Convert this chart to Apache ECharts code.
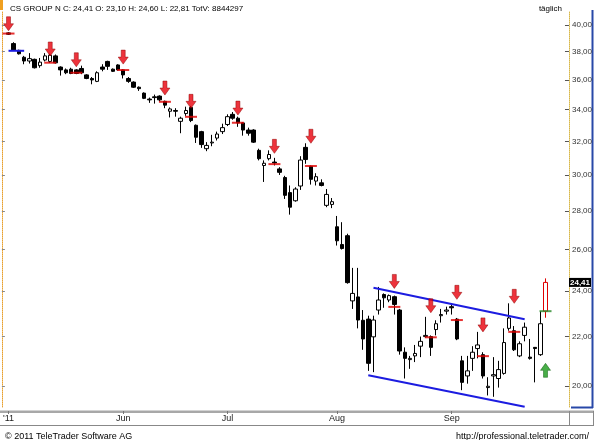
<!DOCTYPE html>
<html>
<head>
<meta charset="utf-8">
<script src="https://cdn.jsdelivr.net/npm/echarts@6/dist/echarts.min.js"></script>
<style>
html, body { margin: 0; padding: 0; background: #fff; }
#chart { width: 595px; height: 440px; }
</style>
</head>
<body>
<div id="chart"></div>
<script>
// daily candles [open, close, low, high], 2 May - 27 Sep 2011
var candles = [
    [39.40, 39.30, 39.25, 39.45],
    [38.60, 38.13, 38.10, 38.70],
    [38.10, 37.85, 37.80, 38.15],
    [37.60, 37.33, 37.10, 37.70],
    [37.33, 37.50, 37.15, 37.90],
    [37.45, 36.85, 36.80, 37.50],
    [37.00, 37.25, 36.85, 37.55],
    [37.40, 37.70, 37.30, 37.90],
    [37.30, 37.75, 37.20, 37.85],
    [37.70, 37.20, 37.15, 37.80],
    [36.90, 36.70, 36.30, 36.95],
    [36.70, 36.50, 36.40, 36.80],
    [36.75, 36.45, 36.40, 36.85],
    [36.70, 36.45, 36.40, 36.75],
    [36.80, 36.50, 36.40, 37.00],
    [36.35, 36.10, 36.05, 36.40],
    [36.10, 36.00, 35.70, 36.20],
    [35.90, 36.50, 35.85, 36.60],
    [36.90, 36.75, 36.60, 37.10],
    [37.30, 36.95, 36.70, 37.35],
    [36.75, 36.60, 36.55, 36.80],
    [37.05, 36.70, 36.65, 37.10],
    [36.70, 36.35, 36.10, 36.75],
    [36.10, 35.90, 35.80, 36.20],
    [35.85, 35.50, 35.45, 35.90],
    [35.50, 35.40, 35.25, 35.55],
    [35.10, 34.75, 34.70, 35.15],
    [34.70, 34.65, 34.45, 34.80],
    [34.85, 34.80, 34.40, 35.00],
    [34.90, 34.65, 34.55, 34.95],
    [34.55, 34.30, 34.10, 34.60],
    [33.90, 34.05, 33.50, 34.15],
    [33.95, 33.90, 33.55, 34.10],
    [33.25, 33.45, 32.50, 33.55],
    [33.75, 33.95, 33.60, 34.20],
    [34.15, 33.30, 33.20, 34.25],
    [33.00, 32.25, 31.90, 33.05],
    [32.60, 31.80, 31.60, 32.65],
    [31.55, 31.75, 31.40, 31.95],
    [31.90, 31.95, 31.70, 32.40],
    [32.20, 32.45, 32.05, 32.60],
    [32.60, 32.85, 32.45, 33.10],
    [33.05, 33.55, 32.95, 33.70],
    [33.70, 33.45, 33.35, 33.85],
    [33.45, 33.15, 32.90, 33.55],
    [33.15, 32.70, 32.35, 33.20],
    [32.70, 32.50, 32.35, 32.85],
    [32.70, 31.95, 31.90, 32.75],
    [31.45, 30.95, 30.85, 31.55],
    [30.55, 30.68, 29.60, 30.85],
    [30.95, 31.20, 30.85, 31.45],
    [30.75, 30.70, 30.55, 31.00],
    [30.35, 30.15, 30.00, 30.45],
    [29.85, 28.85, 28.65, 29.95],
    [29.00, 28.20, 27.80, 29.40],
    [28.55, 29.20, 28.50, 29.30],
    [29.37, 30.87, 29.15, 31.10],
    [31.63, 30.90, 30.65, 31.88],
    [30.50, 29.75, 29.45, 30.55],
    [29.65, 29.90, 29.40, 30.10],
    [29.55, 29.40, 29.35, 29.75],
    [28.30, 28.90, 28.20, 29.20],
    [28.35, 28.50, 28.15, 28.70],
    [27.16, 26.44, 26.20, 27.73],
    [26.25, 26.05, 26.00, 27.40],
    [26.70, 24.40, 24.35, 26.80],
    [23.56, 23.90, 23.20, 25.10],
    [23.74, 22.71, 22.35, 25.10],
    [22.70, 21.90, 21.45, 23.15],
    [22.75, 20.90, 20.60, 22.90],
    [21.99, 22.71, 20.55, 22.90],
    [23.15, 23.60, 22.95, 24.20],
    [23.85, 23.70, 23.25, 23.90],
    [23.60, 23.80, 23.50, 23.85],
    [23.75, 23.40, 22.95, 23.80],
    [23.15, 21.40, 21.25, 23.20],
    [21.35, 21.10, 20.30, 21.55],
    [21.05, 21.10, 20.68, 21.20],
    [21.20, 21.30, 20.95, 21.65],
    [21.60, 21.80, 21.15, 22.00],
    [22.00, 22.05, 21.95, 22.85],
    [22.00, 21.55, 21.20, 22.05],
    [22.30, 22.55, 22.05, 22.70],
    [22.90, 22.95, 22.60, 23.20],
    [23.10, 23.15, 22.95, 23.30],
    [23.30, 23.25, 22.95, 23.45],
    [22.75, 21.90, 21.85, 22.80],
    [21.00, 20.15, 19.85, 21.20],
    [20.40, 20.60, 20.10, 21.20],
    [21.10, 21.35, 20.60, 21.60],
    [21.50, 21.65, 21.10, 22.20],
    [21.25, 20.40, 20.30, 21.35],
    [19.95, 20.00, 19.65, 20.35],
    [20.40, 20.45, 19.60, 21.15],
    [20.30, 20.65, 19.95, 21.00],
    [20.50, 21.75, 20.45, 22.35],
    [22.35, 22.80, 22.25, 23.45],
    [22.25, 21.45, 21.40, 22.45],
    [21.20, 21.70, 21.15, 21.80],
    [22.05, 22.40, 21.80, 22.60],
    [21.15, 21.10, 21.05, 21.90],
    [21.55, 21.50, 20.15, 21.55],
    [21.25, 22.55, 21.20, 23.10],
    [23.10, 24.41, 22.81, 24.60]
];
var totalVolume = 8844297;
var slotCount = 108;

var monthIdx = [0, 22, 42, 63, 85];
var monthLabels = ["'11", 'Jun', 'Jul', 'Aug', 'Sep'];
var priceTicks = [20, 22, 24, 26, 28, 30, 32, 34, 36, 38, 40];

// signal markers [day index, price]
var sellArrows = [[0, 39.56], [8, 37.69], [13, 36.92], [22, 37.11], [30, 34.97], [35, 34.09], [44, 33.65],
    [51, 31.27], [58, 31.88], [74, 24.13], [81, 23.03], [86, 23.63], [91, 22.20], [97, 23.45]];
var sellLevels = [[0, 39.35], [8, 37.21], [13, 36.50], [22, 36.69], [30, 34.52], [35, 33.54], [44, 33.16],
    [51, 30.63], [58, 30.52], [74, 23.29], [81, 21.97], [86, 22.71], [91, 21.19], [97, 22.20]];
var buyArrows = [[103, 20.90]];
var buyLevels = [[103, 23.10]];

// trend lines
var upperChannel = [[70, 24.16], [99, 22.74]];
var lowerChannel = [[69, 20.43], [99, 19.23]];
var supportLine = [[0, 38.07], [3, 38.07]];

function fmt(v) {
    return v.toFixed(2).replace('.', ',');
}

var chart = echarts.init(document.getElementById('chart'));

var last = candles[candles.length - 1];
var header = 'CS GROUP N C: ' + fmt(last[1]) + ' O: ' + fmt(last[0]) + ' H: ' + fmt(last[3]) +
    ' L: ' + fmt(last[2]) + ' TotV: ' + totalVolume;

var categories = [];
for (var i = 0; i < slotCount; i++) categories.push(String(i));

var candleData = candles.map(function (d, i) {
    if (i == candles.length - 1) {
        return { value: d, itemStyle: { color: '#fff', borderColor: '#e00000' } };
    }
    return d;
});

var font = 'Liberation Sans, Arial, sans-serif';
var arrowDown = 'path://M3,0 L7,0 L7,7 L10,7 L5,14 L0,7 L3,7 Z';
var arrowUp = 'path://M5,0 L10,7 L7,7 L7,14 L3,14 L3,7 L0,7 Z';
var yMin = 19.22, yMax = 41.09;

function isMonth(index) {
    return monthIdx.indexOf(index) >= 0;
}

var option = {
    animation: false,
    backgroundColor: '#fff',
    textStyle: { fontFamily: font },
    title: [
        { text: header, left: 5, top: 0, textStyle: { fontSize: 8, fontWeight: 'normal', color: '#000', fontFamily: font } },
        { text: 'täglich', right: 28, top: 0, textStyle: { fontSize: 8, fontWeight: 'normal', color: '#000', fontFamily: font } },
        { text: '© 2011 TeleTrader Software AG', left: 0, top: 427, textStyle: { fontSize: 9, fontWeight: 'normal', color: '#000', fontFamily: font } },
        { text: 'http://professional.teletrader.com/', right: 1, top: 427, textStyle: { fontSize: 9, fontWeight: 'normal', color: '#000', fontFamily: font } }
    ],
    grid: { left: 5, right: 23, top: 11, bottom: 33 },
    xAxis: {
        type: 'category',
        data: categories,
        boundaryGap: true,
        offset: 4,
        axisLine: { show: false },
        axisTick: { show: true, alignWithLabel: true, interval: isMonth, length: 3, lineStyle: { color: '#777' } },
        axisLabel: {
            interval: isMonth,
            margin: 3,
            fontSize: 9,
            color: '#222',
            fontFamily: font,
            formatter: function (v, idx) { return monthLabels[monthIdx.indexOf(idx)]; }
        },
        splitLine: { show: false }
    },
    yAxis: [
        {
            type: 'log',
            logBase: 10,
            position: 'right',
            min: yMin,
            max: yMax,
            axisLine: { show: true, lineStyle: { color: '#d8b848', type: 'dotted' } },
            axisTick: { show: true, inside: true, length: 4, customValues: priceTicks, lineStyle: { color: '#555' } },
            axisLabel: {
                customValues: priceTicks,
                margin: 3,
                fontSize: 8,
                color: '#333',
                fontFamily: font,
                formatter: function (v) { return fmt(v); }
            },
            splitLine: { show: false }
        },
        {
            type: 'log',
            logBase: 10,
            position: 'left',
            offset: 4,
            min: yMin,
            max: yMax,
            axisLine: { show: true, lineStyle: { color: '#e8a030', type: 'dotted' } },
            axisTick: { show: true, inside: true, length: 3, customValues: priceTicks, lineStyle: { color: '#888' } },
            axisLabel: { show: false },
            splitLine: { show: false }
        }
    ],
    graphic: [
        { type: 'rect', shape: { x: 0, y: 0, width: 3, height: 10 }, style: { fill: '#f0a020' } },
        { type: 'rect', shape: { x: 0, y: 410.5, width: 594, height: 2.5 }, style: { fill: '#a8a8a8' } },
        { type: 'line', shape: { x1: 0, y1: 425.5, x2: 594, y2: 425.5 }, style: { stroke: '#888', lineWidth: 1 } },
        { type: 'line', shape: { x1: 569.5, y1: 411, x2: 569.5, y2: 425 }, style: { stroke: '#888', lineWidth: 1 } },
        { type: 'line', shape: { x1: 593.5, y1: 411, x2: 593.5, y2: 425 }, style: { stroke: '#888', lineWidth: 1 } },
        { type: 'line', shape: { x1: 592.5, y1: 10, x2: 592.5, y2: 408 }, style: { stroke: '#2848a8', lineWidth: 2 } },
        { type: 'line', shape: { x1: 571, y1: 407.5, x2: 593, y2: 407.5 }, style: { stroke: '#2848a8', lineWidth: 2 } }
    ],
    series: [
        {
            type: 'candlestick',
            data: candleData,
            barWidth: 4,
            itemStyle: { color: '#fff', color0: '#000', borderColor: '#000', borderColor0: '#000', borderWidth: 1 },
            markLine: {
                silent: true,
                symbol: ['none', 'none'],
                lineStyle: { width: 0, color: 'rgba(0,0,0,0)' },
                data: [{ yAxis: last[1] }],
                label: {
                    show: true,
                    position: 'end',
                    distance: 0,
                    formatter: fmt(last[1]),
                    color: '#fff',
                    backgroundColor: '#000',
                    fontSize: 8,
                    fontWeight: 'bold',
                    fontFamily: font,
                    padding: [1, 1, 0, 1]
                }
            }
        },
        {
            type: 'line',
            data: upperChannel,
            symbol: 'none',
            clip: false,
            lineStyle: { color: '#1c1ce0', width: 2 }
        },
        {
            type: 'line',
            data: lowerChannel,
            symbol: 'none',
            clip: false,
            lineStyle: { color: '#1c1ce0', width: 2 }
        },
        {
            type: 'line',
            data: supportLine,
            symbol: 'none',
            lineStyle: { color: '#1c1ce0', width: 2 }
        },
        {
            type: 'scatter',
            data: sellLevels,
            symbol: 'rect',
            symbolSize: [12, 2],
            itemStyle: { color: '#e00000' },
            z: 4
        },
        {
            type: 'scatter',
            data: buyLevels,
            symbol: 'rect',
            symbolSize: [12, 2],
            itemStyle: { color: '#2a8a2a' },
            z: 4
        },
        {
            type: 'scatter',
            data: sellArrows,
            symbol: arrowDown,
            symbolSize: [10, 14],
            symbolOffset: [0, '-50%'],
            itemStyle: { color: '#e8000b', borderColor: '#900000', borderWidth: 0.6 },
            z: 5
        },
        {
            type: 'scatter',
            data: buyArrows,
            symbol: arrowUp,
            symbolSize: [10, 14],
            symbolOffset: [0, '50%'],
            itemStyle: { color: '#1a9a1a', borderColor: '#0a5a0a', borderWidth: 0.6 },
            z: 5
        }
    ]
};

chart.setOption(option);
</script>
</body>
</html>
